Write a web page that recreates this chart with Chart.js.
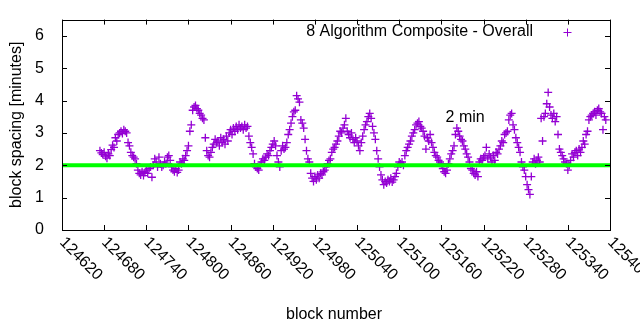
<!DOCTYPE html>
<html>
<head>
<meta charset="utf-8">
<script src="https://cdn.jsdelivr.net/npm/chart.js@4.4.1/dist/chart.umd.min.js"></script>
<style>
  html, body { margin: 0; background: #fff; }
  canvas { display: block; }
</style>
</head>
<body>
<canvas id="chart" width="640" height="330"></canvas>
<script>
// block spacing in minutes, one reading every second block starting at firstBlock
const firstBlock = 124674;
const blockStep = 2;
const spacing = [
  2.45, 2.38, 2.33, 2.40, 2.28, 2.22, 2.35, 2.30, 2.48, 2.62, 2.55, 2.85, 2.75, 2.95,
  3.00, 3.05, 2.98, 3.10, 3.05, 3.00, 2.70, 2.60, 2.40, 2.30, 2.25, 2.20, 2.05, 1.85,
  1.75, 1.70, 1.80, 1.68, 1.78, 1.85, 1.75, 1.90, 1.95, 1.63, 2.00, 2.20, 2.10, 1.95,
  2.25, 2.05, 1.95, 2.00, 2.10, 2.05, 2.25, 2.30, 2.15, 1.95, 1.85, 1.80, 1.90, 1.78,
  1.85, 2.10, 2.05, 2.20, 2.15, 2.30, 2.45, 2.60, 3.05, 3.25, 3.70, 3.80, 3.85, 3.75,
  3.70, 3.60, 3.55, 3.45, 3.40, 2.85, 2.45, 2.30, 2.25, 2.40, 2.55, 2.65, 2.80, 2.70,
  2.75, 2.60, 2.85, 2.70, 2.80, 2.65, 2.90, 2.75, 3.00, 3.10, 2.95, 3.15, 3.05, 3.20,
  3.10, 3.25, 3.15, 3.20, 3.10, 3.25, 3.15, 3.20, 2.90, 2.70, 2.55, 2.35, 2.05, 1.95,
  1.90, 1.85, 2.00, 2.10, 2.20, 2.15, 2.25, 2.35, 2.30, 2.45, 2.55, 2.65, 2.75, 2.60,
  2.30, 2.10, 1.95, 2.45, 2.60, 2.50, 2.55, 2.70, 2.95, 3.10, 3.30, 3.50, 3.65, 3.70,
  4.15, 4.05, 3.95, 3.40, 3.30, 3.15, 2.80, 2.45, 2.20, 2.10, 1.75, 1.60, 1.50, 1.65,
  1.55, 1.70, 1.60, 1.75, 1.70, 1.80, 1.85, 1.95, 2.05, 2.15, 2.20, 2.40, 2.50, 2.55,
  2.65, 2.75, 2.90, 3.05, 3.00, 3.15, 3.25, 3.45, 3.05, 2.95, 2.85, 3.00, 2.80, 2.70,
  2.85, 2.75, 2.60, 2.45, 2.70, 2.90, 3.10, 3.25, 3.35, 3.50, 3.60, 3.45, 3.20, 3.00,
  2.80, 2.45, 2.20, 1.95, 1.70, 1.55, 1.40, 1.50, 1.45, 1.55, 1.50, 1.60, 1.48, 1.55,
  1.65, 1.75, 1.95, 2.10, 2.05, 2.10, 2.00, 2.30, 2.45, 2.55, 2.65, 2.75, 2.90, 3.00,
  3.10, 3.25, 3.30, 3.35, 3.20, 3.15, 3.05, 2.90, 2.50, 2.85, 2.75, 2.95, 2.70, 2.55,
  2.40, 2.30, 2.25, 2.15, 2.10, 2.05, 1.90, 1.80, 1.75, 1.85, 2.05, 2.20, 2.35, 2.45,
  2.60, 2.95, 3.15, 3.05, 2.90, 2.80, 2.75, 2.60, 2.50, 2.35, 2.25, 2.10, 1.90, 1.85,
  1.75, 1.70, 1.80, 1.65, 2.10, 2.20, 2.15, 2.25, 2.30, 2.55, 2.20, 2.35, 2.25, 2.10,
  2.30, 2.15, 2.40, 2.35, 2.50, 2.60, 2.75, 2.70, 2.95, 3.00, 3.05, 3.40, 3.55, 3.60,
  3.25, 3.10, 2.85, 2.70, 2.55, 2.40, 2.10, 1.95, 1.85, 1.65, 1.40, 1.25, 1.10, 1.65,
  2.10, 2.20, 2.05, 2.15, 2.25, 2.10, 3.45, 2.75, 3.50, 3.60, 3.90, 4.25, 3.80, 3.55,
  3.45, 3.60, 3.35, 3.50, 2.95, 2.50, 2.40, 2.30, 2.20, 2.10, 2.05, 1.85, 2.00, 2.15,
  2.35, 2.25, 2.40, 2.45, 2.30, 2.50, 2.40, 2.55, 2.75, 2.65, 2.95, 3.05, 3.40, 3.50,
  3.55, 3.60, 3.65, 3.55, 3.70, 3.75, 3.65, 3.60, 3.10, 3.50, 3.40
];
const xTicks = [124620, 124680, 124740, 124800, 124860, 124920, 124980, 125040,
  125100, 125160, 125220, 125280, 125340, 125400];
const yTicks = [0, 1, 2, 3, 4, 5, 6];
const targetMinutes = 2;
const seriesLabel = "8 Algorithm Composite - Overall";
const targetLabel = "2 min";

const font = "16px 'Liberation Sans', Arial, sans-serif";
const purple = "#9400d3";
const points = spacing.map((y, i) => ({ x: firstBlock + i * blockStep, y }));

function drawCross(ctx, cx, cy, r) {
  ctx.beginPath();
  ctx.moveTo(cx - r, cy); ctx.lineTo(cx + r, cy);
  ctx.moveTo(cx, cy - r); ctx.lineTo(cx, cy + r);
  ctx.stroke();
}

const gnuplotLook = {
  id: "gnuplotLook",
  afterDraw(chart) {
    const { ctx, chartArea: a, scales: { x, y } } = chart;
    ctx.save();
    ctx.strokeStyle = "#000";
    ctx.lineWidth = 1;
    ctx.strokeRect(Math.round(a.left) + 0.5, Math.round(a.top) + 0.5,
      Math.round(a.width), Math.round(a.height));
    ctx.beginPath();
    xTicks.forEach(v => {
      const px = Math.round(x.getPixelForValue(v)) + 0.5;
      ctx.moveTo(px, a.bottom); ctx.lineTo(px, a.bottom - 5);
      ctx.moveTo(px, a.top); ctx.lineTo(px, a.top + 5);
    });
    yTicks.forEach(v => {
      const py = Math.round(y.getPixelForValue(v)) + 0.5;
      ctx.moveTo(a.left, py); ctx.lineTo(a.left + 5, py);
      ctx.moveTo(a.right, py); ctx.lineTo(a.right - 5, py);
    });
    ctx.stroke();

    ctx.fillStyle = "#000";
    ctx.font = font;
    ctx.textAlign = "left";
    ctx.textBaseline = "middle";
    xTicks.forEach(v => {
      ctx.save();
      ctx.translate(x.getPixelForValue(v), a.bottom + 10);
      ctx.rotate(Math.PI / 4);
      ctx.fillText(String(v), 0, 0);
      ctx.restore();
    });

    ctx.textAlign = "center";
    ctx.fillText("block number", 334, 315);
    ctx.save();
    ctx.translate(17, (a.top + a.bottom) / 2);
    ctx.rotate(-Math.PI / 2);
    ctx.fillText("block spacing [minutes]", 0, 0);
    ctx.restore();

    ctx.textAlign = "right";
    ctx.fillText(seriesLabel, 533, 32);
    ctx.strokeStyle = purple;
    drawCross(ctx, 567.5, 32.5, 4);

    ctx.textAlign = "left";
    ctx.fillText(targetLabel, x.getPixelForValue(125166), y.getPixelForValue(3.47));
    ctx.restore();
  }
};

new Chart(document.getElementById("chart"), {
  type: "scatter",
  data: {
    datasets: [
      {
        type: "line",
        label: "target",
        data: [{ x: xTicks[0], y: targetMinutes }, { x: xTicks[xTicks.length - 1], y: targetMinutes }],
        borderColor: "#00ff00",
        borderWidth: 4,
        pointRadius: 0
      },
      {
        label: seriesLabel,
        data: points,
        pointStyle: "cross",
        pointRadius: 4,
        borderWidth: 1.3,
        borderColor: purple,
        backgroundColor: purple
      }
    ]
  },
  options: {
    responsive: false,
    animation: false,
    devicePixelRatio: 1,
    events: [],
    layout: { padding: { left: 0, top: 18, right: 30, bottom: 0 } },
    plugins: { legend: { display: false }, tooltip: { enabled: false } },
    scales: {
      x: {
        type: "linear",
        min: xTicks[0],
        max: xTicks[xTicks.length - 1],
        afterBuildTicks: scale => { scale.ticks = xTicks.map(value => ({ value })); },
        afterFit: scale => { scale.height = 100; },
        ticks: { display: false },
        grid: { display: false },
        border: { display: false }
      },
      y: {
        min: 0,
        max: 6.5,
        afterBuildTicks: scale => { scale.ticks = yTicks.map(value => ({ value })); },
        afterFit: scale => { scale.width = 62; },
        ticks: { color: "#000", padding: 10, font: { family: "'Liberation Sans', Arial, sans-serif", size: 16 } },
        grid: { display: false },
        border: { display: false }
      }
    }
  },
  plugins: [gnuplotLook]
});
</script>
</body>
</html>
